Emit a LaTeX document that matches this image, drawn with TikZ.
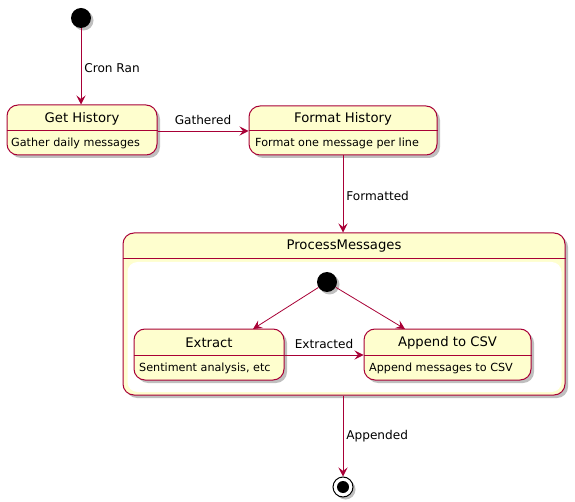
\documentclass[tikz,border=0pt]{standalone}
\usepackage{fontspec}
\setmainfont{DejaVu Sans}
\usetikzlibrary{arrows.meta,shadows}
\definecolor{pumlborder}{HTML}{A80036}
\definecolor{pumlfill}{HTML}{FEFECE}
\tikzset{
  statebox/.style={draw=pumlborder, fill=pumlfill, line width=1pt, rounded corners=11pt,
    drop shadow={shadow xshift=3pt, shadow yshift=-3pt, fill=black, opacity=0.25}, inner sep=0pt},
  innerbox/.style={fill=white, rounded corners=10pt, draw=none, inner sep=0pt},
  divider/.style={draw=pumlborder, line width=1pt},
  titletext/.style={font=\fontsize{13.2}{15}\selectfont, inner sep=0pt},
  desctext/.style={font=\fontsize{11.2}{13}\selectfont, inner sep=0pt, anchor=west},
  lbl/.style={font=\fontsize{12.1}{14}\selectfont, inner sep=0pt},
  conn/.style={draw=pumlborder, line width=0.8pt, -{Stealth[length=9pt,width=9pt,inset=3.5pt]}},
  initial/.style={circle, fill=black, minimum size=20pt, inner sep=0pt,
    drop shadow={shadow xshift=2.5pt, shadow yshift=-2.5pt, fill=black, opacity=0.25}},
}
\begin{document}
\begin{tikzpicture}[x=1pt,y=-1pt]
\useasboundingbox (0,0) rectangle (575,502);
% initial
\node[initial] (init) at (81,18) {};
% Get History
\node[statebox, minimum width=150pt, minimum height=50pt] (gh) at (82,130) {};
\draw[divider] (gh.west |- 0,131) -- (gh.east |- 0,131);
\node[titletext] (ght) at (82,118.5) {Get History};
\node[desctext] (ghd) at (11,143.5) {Gather daily messages};
% Format History
\node[statebox, minimum width=188pt, minimum height=49pt] (fh) at (343,130.5) {};
\draw[divider] (fh.west |- 0,130.5) -- (fh.east |- 0,130.5);
\node[titletext] (fht) at (343,118.5) {Format History};
\node[desctext] (fhd) at (255,143.5) {Format one message per line};
% ProcessMessages
\node[statebox, minimum width=442pt, minimum height=162pt] (pm) at (344,314) {};
\draw[divider] (pm.west |- 0,259) -- (pm.east |- 0,259);
\node[titletext] (pmt) at (344,246) {ProcessMessages};
\node[innerbox, minimum width=434pt, minimum height=130pt] (pmi) at (344.5,327) {};
% inner initial
\node[initial] (init2) at (327,282) {};
% Extract
\node[statebox, minimum width=150pt, minimum height=51pt] (ex) at (209,354.5) {};
\draw[divider] (ex.west |- 0,355) -- (ex.east |- 0,355);
\node[titletext] (ext) at (209,343) {Extract};
\node[desctext] (exd) at (139,368) {Sentiment analysis, etc};
% Append to CSV
\node[statebox, minimum width=167pt, minimum height=51pt] (ap) at (447.5,354.5) {};
\draw[divider] (ap.west |- 0,355) -- (ap.east |- 0,355);
\node[titletext] (apt) at (447.5,343) {Append to CSV};
\node[desctext] (apd) at (369,368) {Append messages to CSV};
% final
\node[circle, draw=black, fill=white, line width=1pt, minimum size=20pt, inner sep=0pt,
  drop shadow={shadow xshift=2.5pt, shadow yshift=-2.5pt, fill=black, opacity=0.25}] (fin) at (343,487) {};
\node[circle, fill=black, minimum size=12pt, inner sep=0pt] (fini) at (fin.center) {};
% connectors
\draw[conn] (init) -- (gh.north -| init) node[lbl, pos=0.52, anchor=west, xshift=3pt] {Cron Ran};
\draw[conn] (gh.east |- 0,131) -- (fh.west |- 0,131) node[lbl, midway, above=6pt] {Gathered};
\draw[conn] (fh.south) -- (pm.north -| fh.south) node[lbl, pos=0.52, anchor=west, xshift=3pt] {Formatted};
\draw[conn] (init2) -- (253,329);
\draw[conn] (init2) -- (405,329);
\draw[conn] (ex.east |- 0,355) -- (ap.west |- 0,355) node[lbl, pos=0.5, above=6pt] {Extracted};
\draw[conn] (pm.south -| fin) -- (fin.north) node[lbl, pos=0.5, anchor=west, xshift=3pt] {Appended};
\end{tikzpicture}
\end{document}
